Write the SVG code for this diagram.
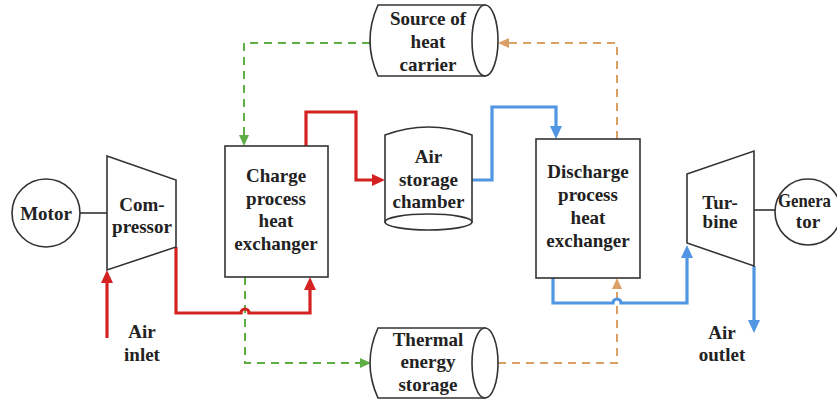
<svg xmlns="http://www.w3.org/2000/svg" width="837" height="401" viewBox="0 0 837 401">
  <style>
    .shape { fill: #ffffff; stroke: #333333; stroke-width: 1.6; }
    .edge { fill: none; stroke: #333333; stroke-width: 1.6; }
    .lbl { font-family: "Liberation Serif", "Times New Roman", serif; font-weight: bold; font-size: 19px; fill: #222222; text-anchor: middle; }
    .red { fill: none; stroke: #d42222; stroke-width: 3.2; }
    .blue { fill: none; stroke: #5196e3; stroke-width: 3.2; }
    .green { fill: none; stroke: #5fad45; stroke-width: 2; stroke-dasharray: 8 6; }
    .orange { fill: none; stroke: #dba066; stroke-width: 2; stroke-dasharray: 8 6; }
  </style>
  <defs>
    <marker id="arrRed" markerUnits="userSpaceOnUse" markerWidth="14" markerHeight="13" refX="2" refY="6" orient="auto">
      <path d="M0,0 L13,6 L0,12 z" fill="#d42222"/>
    </marker>
    <marker id="arrBlue" markerUnits="userSpaceOnUse" markerWidth="14" markerHeight="13" refX="2" refY="6" orient="auto">
      <path d="M0,0 L13,6 L0,12 z" fill="#5196e3"/>
    </marker>
    <marker id="arrGreen" markerUnits="userSpaceOnUse" markerWidth="12" markerHeight="11" refX="2" refY="5" orient="auto">
      <path d="M0,0 L11,5 L0,10 z" fill="#5fad45"/>
    </marker>
    <marker id="arrOrange" markerUnits="userSpaceOnUse" markerWidth="12" markerHeight="11" refX="2" refY="5" orient="auto">
      <path d="M0,0 L11,5 L0,10 z" fill="#dba066"/>
    </marker>
  </defs>

  <rect width="837" height="401" fill="#ffffff"/>

  <!-- flows -->
  <g id="connectors">
    <!-- shaft couplings -->
    <line class="edge" x1="80" y1="213" x2="107" y2="213"/>
    <line class="edge" x1="754" y1="210" x2="775" y2="210"/>
    <!-- heat carrier loop (dashed) -->
    <path class="green" d="M370,43 H244 V137" marker-end="url(#arrGreen)"/>
    <path class="green" d="M245,277 V363 H362" marker-end="url(#arrGreen)"/>
    <path class="orange" d="M617,139 V43 H507" marker-end="url(#arrOrange)"/>
    <path class="orange" d="M498,363 H617 V287" marker-end="url(#arrOrange)"/>
    <!-- charge air path -->
    <path class="red" d="M107,338 V281" marker-end="url(#arrRed)"/>
    <path class="red" d="M176,247 V313 H241 a4,4 0 0 1 8,0 H310 V288" marker-end="url(#arrRed)"/>
    <path class="red" d="M306,146 V112 H356 V180 H374" marker-end="url(#arrRed)"/>
    <!-- discharge air path -->
    <path class="blue" d="M472,180 H492 V107 H556 V128" marker-end="url(#arrBlue)"/>
    <path class="blue" d="M553,278 V303 H613 a4,4 0 0 1 8,0 H687 V256" marker-end="url(#arrBlue)"/>
    <path class="blue" d="M754,266 V322" marker-end="url(#arrBlue)"/>
  </g>

  <g id="motor">
    <circle class="shape" cx="46" cy="213" r="34"/>
    <text class="lbl" x="46" y="220">Motor</text>
  </g>

  <g id="compressor">
    <polygon class="shape" points="107,156 176,180 176,247 107,270"/>
    <text class="lbl" x="142" y="211">Com-</text>
    <text class="lbl" x="142" y="233">pressor</text>
  </g>

  <g id="air-inlet">
    <text class="lbl" x="142" y="338">Air</text>
    <text class="lbl" x="142" y="361">inlet</text>
  </g>

  <g id="charge-hx">
    <rect class="shape" x="225" y="146" width="103" height="131"/>
    <text class="lbl" x="276" y="182">Charge</text>
    <text class="lbl" x="276" y="204.5">process</text>
    <text class="lbl" x="276" y="227">heat</text>
    <text class="lbl" x="276" y="249.5">exchanger</text>
  </g>

  <g id="heat-source">
    <path class="shape" d="M378,5 H485 V76 H378 Q362,40.5 378,5 z"/>
    <ellipse class="shape" cx="485" cy="40.5" rx="13" ry="35.5"/>
    <text class="lbl" x="428" y="25">Source of</text>
    <text class="lbl" x="428" y="48">heat</text>
    <text class="lbl" x="428" y="71">carrier</text>
  </g>

  <g id="air-storage">
    <path class="shape" d="M385,135 Q428.5,119 472,135 V222 H385 z"/>
    <ellipse class="shape" cx="428.5" cy="222" rx="43.5" ry="8"/>
    <text class="lbl" x="428.5" y="163">Air</text>
    <text class="lbl" x="428.5" y="186">storage</text>
    <text class="lbl" x="428.5" y="208">chamber</text>
  </g>

  <g id="thermal-storage">
    <path class="shape" d="M378,328 H485 V398 H378 Q362,363 378,328 z"/>
    <ellipse class="shape" cx="485" cy="363" rx="13" ry="35"/>
    <text class="lbl" x="428" y="346">Thermal</text>
    <text class="lbl" x="428" y="368">energy</text>
    <text class="lbl" x="428" y="391">storage</text>
  </g>

  <g id="discharge-hx">
    <rect class="shape" x="536" y="139" width="104" height="139"/>
    <text class="lbl" x="588" y="178">Discharge</text>
    <text class="lbl" x="588" y="201">process</text>
    <text class="lbl" x="588" y="224">heat</text>
    <text class="lbl" x="588" y="247">exchanger</text>
  </g>

  <g id="turbine">
    <polygon class="shape" points="687,174 754,151 754,266 687,243"/>
    <text class="lbl" x="720" y="209">Tur-</text>
    <text class="lbl" x="720" y="228">bine</text>
  </g>

  <g id="generator">
    <circle class="shape" cx="808" cy="212" r="33"/>
    <text class="lbl" x="778" y="207" style="text-anchor:start" textLength="53" lengthAdjust="spacingAndGlyphs">Genera</text>
    <text class="lbl" x="808" y="228">tor</text>
  </g>

  <g id="air-outlet">
    <text class="lbl" x="722" y="339">Air</text>
    <text class="lbl" x="722" y="361">outlet</text>
  </g>
</svg>
